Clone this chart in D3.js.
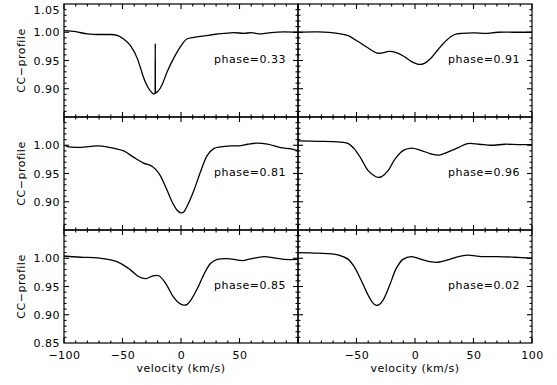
<!DOCTYPE html>
<html>
<head>
<meta charset="utf-8">
<script src="https://cdn.jsdelivr.net/npm/d3@7"></script>
<style>
  body { margin: 0; background: #fff; }
  svg text { font-family: 'DejaVu Sans', sans-serif; font-size: 11px; fill: #000; letter-spacing: 0.5px; }
</style>
</head>
<body>
<svg id="chart" width="557" height="385"></svg>
<script>
// CC profiles, one pair of arrays per phase (velocity in km/s, profile value)
const vel_033 = [-100, -90, -80, -71, -60, -54, -49, -43, -37, -34.5, -32, -29.8, -27.5, -25.5, -23.6, -22.1, -22, -21.9, -20, -18, -16, -12, -6, 0, 5, 11, 20, 28, 37, 45, 54, 60, 68, 77, 88, 100];
const cc_033 = [1.003, 1.001, 0.997, 0.996, 0.996, 0.994, 0.988, 0.976, 0.952, 0.936, 0.920, 0.909, 0.900, 0.8945, 0.891, 0.8918, 0.980, 0.8925, 0.895, 0.900, 0.908, 0.929, 0.955, 0.976, 0.988, 0.991, 0.9935, 0.996, 0.998, 0.9994, 0.998, 0.9994, 0.997, 0.9994, 1.0006, 1.000];

const vel_091 = [-100, -83, -66, -57, -49, -40, -33, -29, -22, -16, -10, -3, 1, 4, 8, 14, 20, 27, 34, 40, 51, 60, 71, 85, 100];
const cc_091 = [1.000, 1.0006, 0.998, 0.994, 0.984, 0.972, 0.9635, 0.963, 0.966, 0.964, 0.958, 0.948, 0.9445, 0.943, 0.945, 0.955, 0.970, 0.986, 0.996, 0.998, 0.9988, 0.998, 1.000, 1.000, 1.000];

const vel_081 = [-100, -96, -86, -71.5, -63, -49, -40, -32, -24.5, -19, -13, -7.4, -3.5, -0.3, 2.5, 5.4, 11, 17, 22.5, 28, 34, 42.5, 51, 57, 65, 74, 85, 94, 100];
const cc_081 = [1.000, 0.997, 0.9964, 0.9988, 0.997, 0.990, 0.978, 0.9685, 0.9625, 0.9506, 0.9256, 0.899, 0.8855, 0.8805, 0.8825, 0.893, 0.920, 0.955, 0.982, 0.994, 0.997, 0.9988, 0.9994, 1.0018, 1.0036, 1.0018, 0.9958, 0.9935, 0.990];

const vel_096 = [-100, -83, -66, -57, -52, -46, -40, -34.5, -31.5, -28.5, -23, -17, -10, -3, 5, 14, 21, 28, 37, 45, 55, 65, 77, 88, 100];
const cc_096 = [1.0077, 1.007, 1.006, 1.003, 0.994, 0.976, 0.955, 0.9455, 0.943, 0.9445, 0.955, 0.976, 0.991, 0.995, 0.991, 0.9845, 0.9827, 0.988, 0.9958, 1.003, 1.0018, 1.000, 1.0018, 1.0012, 1.0012];

const vel_085 = [-100, -86, -71.5, -60, -51.6, -43, -36, -30, -24.5, -19, -13, -7.4, -1.7, 2, 5, 8.3, 14, 19.7, 25.4, 31, 39.6, 45.3, 52.4, 59.5, 71, 79.5, 88, 100];
const cc_085 = [1.004, 1.0018, 1.0006, 0.997, 0.991, 0.979, 0.9673, 0.964, 0.9685, 0.969, 0.955, 0.9345, 0.9208, 0.9172, 0.918, 0.9256, 0.9464, 0.972, 0.991, 0.998, 0.9994, 0.998, 0.9958, 0.9988, 1.003, 1.0006, 0.998, 0.998];

const vel_002 = [-100, -83, -66, -57, -52, -46, -40, -36, -33.5, -31, -27.4, -21.7, -16, -10.3, -3, 5.4, 14, 19.7, 28, 37, 45, 57, 71, 85, 100];
const cc_002 = [1.010, 1.009, 1.006, 0.998, 0.985, 0.961, 0.9345, 0.921, 0.917, 0.9175, 0.9256, 0.952, 0.982, 0.998, 1.003, 0.998, 0.9935, 0.9929, 0.997, 1.003, 1.0054, 1.003, 1.003, 1.0018, 1.000];

// panel order: row by row, left then right
const phases = ['0.33', '0.91', '0.81', '0.96', '0.85', '0.02'];
const velocities = [vel_033, vel_091, vel_081, vel_096, vel_085, vel_002];
const profiles = [cc_033, cc_091, cc_081, cc_096, cc_085, cc_002];

const x_major = [-100, -50, 0, 50, 100];
const x_minor = d3.range(-90, 91, 10).filter(d => d % 50 !== 0);
const y_major = [0.90, 0.95, 1.00];
const y_minor = d3.range(86, 105, 1).filter(d => d % 5 !== 0).map(d => d / 100);

// which tick labels each row / column shows (IDL drops the colliding ones)
const y_labels_by_row = [[0.90, 0.95, 1.00, 1.05], [0.90, 0.95, 1.00], [0.85, 0.90, 0.95, 1.00]];
const x_labels_by_col = [[-100, -50, 0, 50], [-50, 0, 50, 100]];

const svg = d3.select('#chart');
const plot_left = 64, panel_w = 234, plot_top = 4, panel_h = 113;
const major_len = 5, minor_len = 2.5;

const fmt_y = d3.format('.2f');
const fmt_x = d3.format('d');

phases.forEach((phase, i) => {
  const row = Math.floor(i / 2);
  const col = i % 2;
  const x0 = plot_left + col * panel_w;
  const y0 = plot_top + row * panel_h;

  const x = d3.scaleLinear().domain([-100, 100]).range([0, panel_w]);
  const y = d3.scaleLinear().domain([0.85, 1.05]).range([panel_h, 0]);

  const g = svg.append('g')
    .attr('transform', `translate(${x0},${y0})`);

  const x_labels = row === 2 ? x_labels_by_col[col] : [];
  const y_labels = col === 0 ? y_labels_by_row[row] : [];

  // ticks point inward on all four sides (IDL style)
  const x_ticks = x_major.map(v => ({ v, len: major_len }))
    .concat(x_minor.map(v => ({ v, len: minor_len })));
  const y_ticks = y_major.map(v => ({ v, len: major_len }))
    .concat(y_minor.map(v => ({ v, len: minor_len })));

  const tick_g = g.append('g');

  [0, panel_h].forEach(edge => {
    const dir = edge === 0 ? 1 : -1;
    tick_g.selectAll(null)
      .data(x_ticks)
      .join('line')
      .attr('x1', d => x(d.v))
      .attr('x2', d => x(d.v))
      .attr('y1', edge)
      .attr('y2', d => edge + dir * d.len);
  });
  [0, panel_w].forEach(edge => {
    const dir = edge === 0 ? 1 : -1;
    tick_g.selectAll(null)
      .data(y_ticks)
      .join('line')
      .attr('y1', d => y(d.v))
      .attr('y2', d => y(d.v))
      .attr('x1', edge)
      .attr('x2', d => edge + dir * d.len);
  });
  tick_g.selectAll('line')
    .style('stroke', '#000')
    .style('stroke-width', '1.1px');

  if (y_labels.length) {
    g.append('g')
      .call(d3.axisLeft(y).tickValues(y_labels).tickSize(0).tickPadding(4).tickFormat(fmt_y))
      .call(a => a.select('.domain').remove())
      .call(a => a.attr('font-family', null).attr('font-size', null))
      // the top label is pushed down so it stays inside the page
      .call(a => a.selectAll('text').filter(d => d === 1.05).attr('dy', '0.85em'));
  }
  if (x_labels.length) {
    g.append('g')
      .attr('transform', `translate(0,${panel_h})`)
      .call(d3.axisBottom(x).tickValues(x_labels).tickSize(0).tickPadding(8).tickFormat(fmt_x))
      .call(a => a.select('.domain').remove())
      .call(a => a.attr('font-family', null).attr('font-size', null));
  }

  g.append('rect')
    .attr('x', 0)
    .attr('y', 0)
    .attr('width', panel_w)
    .attr('height', panel_h)
    .attr('fill', 'none')
    .attr('stroke', '#000')
    .attr('stroke-width', 1.2);

  const pts = velocities[i].map((v, k) => [v, profiles[i][k]]);
  // monotone keeps the narrow spike at phase 0.33 from bulging sideways
  const line = d3.line()
    .x(d => x(d[0]))
    .y(d => y(d[1]))
    .curve(i === 0 ? d3.curveMonotoneX : d3.curveCatmullRom.alpha(0.5));

  g.append('path')
    .attr('d', line(pts))
    .attr('fill', 'none')
    .attr('stroke', '#000')
    .attr('stroke-width', 1.3);

  g.append('text')
    .attr('x', panel_w - 12)
    .attr('y', y(0.95) + 2)
    .attr('text-anchor', 'end')
    .text(`phase=${phase}`);

  if (col === 0) {
    svg.append('text')
      .attr('transform', `translate(24.5,${y0 + panel_h / 2}) rotate(-90)`)
      .attr('text-anchor', 'middle')
      .text('CC\u2212profile');
  }
  if (row === 2) {
    svg.append('text')
      .attr('x', x0 + panel_w / 2)
      .attr('y', 372)
      .attr('text-anchor', 'middle')
      .text('velocity (km/s)');
  }
});
</script>
</body>
</html>
